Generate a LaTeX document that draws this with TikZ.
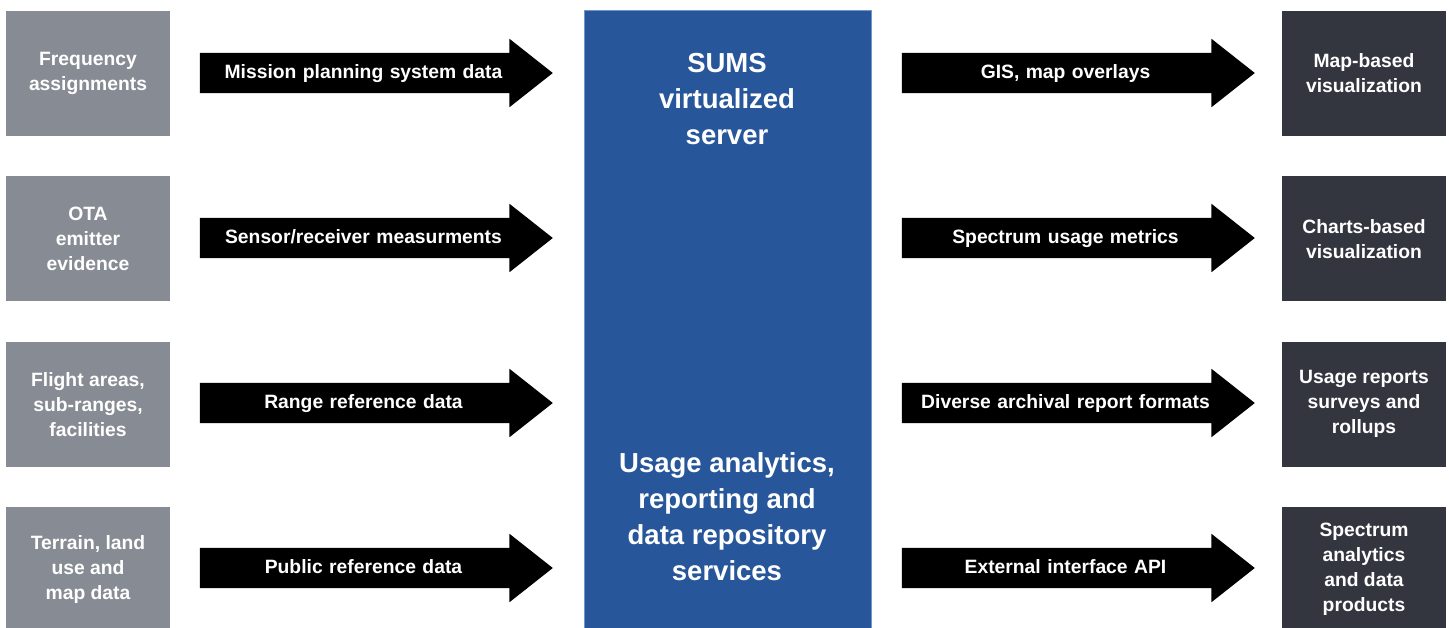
\documentclass[tikz,border=0pt]{standalone}
\usepackage{fontspec}
\setmainfont{Liberation Sans}
\usetikzlibrary{positioning,shapes.arrows}

\definecolor{feedgray}{HTML}{878C94}
\definecolor{outdark}{HTML}{33353F}
\definecolor{serverblue}{HTML}{27579A}
\definecolor{serveredge}{HTML}{7196CB}

\tikzset{
  sourcebox/.style={fill=feedgray, text=white, minimum width=164pt, minimum height=125pt,
    inner sep=0pt, align=center, font=\fontsize{19.3}{25}\selectfont\bfseries},
  sinkbox/.style={sourcebox, fill=outdark},
  flow/.style={single arrow, fill=black, text=white, text width=327pt, align=center,
    inner xsep=0pt, inner ysep=11.5pt, text height=14pt, text depth=3pt,
    single arrow head extend=14pt, single arrow tip angle=76.6,
    font=\fontsize{19.3}{22}\selectfont\bfseries},
  servertext/.style={text=white, align=center, font=\fontsize{27.5}{36}\selectfont\bfseries}
}

\begin{document}
\begin{tikzpicture}[x=1pt, y=-1pt]
      \useasboundingbox (0,0) rectangle (1449,627);

      \node[fill=serverblue, draw=serveredge, line width=1pt, minimum width=287pt,
        minimum height=640pt, anchor=north west] (server) at (584,10) {};
      \node[servertext] (top) at (727,99) {SUMS\\virtualized\\server};
      \node[servertext] (bottom) at (727,517) {Usage analytics,\\reporting and\\data repository\\services};

      \node[sourcebox] (s1) at (88,73.5) {Frequency\\assignments};
      \node[sourcebox, below=40pt of s1] (s2) {OTA\\emitter\\evidence};
      \node[sourcebox, below=40pt of s2] (s3) {Flight areas,\\sub-ranges,\\facilities};
      \node[sourcebox, below=40pt of s3] (s4) {Terrain, land\\use and\\map data};

      \node[sinkbox] (t1) at (1364,73.5) {Map-based\\visualization};
      \node[sinkbox, below=40pt of t1] (t2) {Charts-based\\visualization};
      \node[sinkbox, below=40pt of t2] (t3) {Usage reports\\surveys and\\rollups};
      \node[sinkbox, below=40pt of t3] (t4) {Spectrum\\analytics\\and data\\products};

      \node[flow] (in1) at (363.5,73) {Mission planning system data};
      \node[flow] (in2) at (363.5,238) {Sensor/receiver measurments};
      \node[flow] (in3) at (363.5,403) {Range reference data};
      \node[flow] (in4) at (363.5,568) {Public reference data};

      \node[flow] (out1) at (1065.5,73) {GIS, map overlays};
      \node[flow] (out2) at (1065.5,238) {Spectrum usage metrics};
      \node[flow] (out3) at (1065.5,403) {Diverse archival report formats};
      \node[flow] (out4) at (1065.5,568) {External interface API};
    \end{tikzpicture}
\end{document}
